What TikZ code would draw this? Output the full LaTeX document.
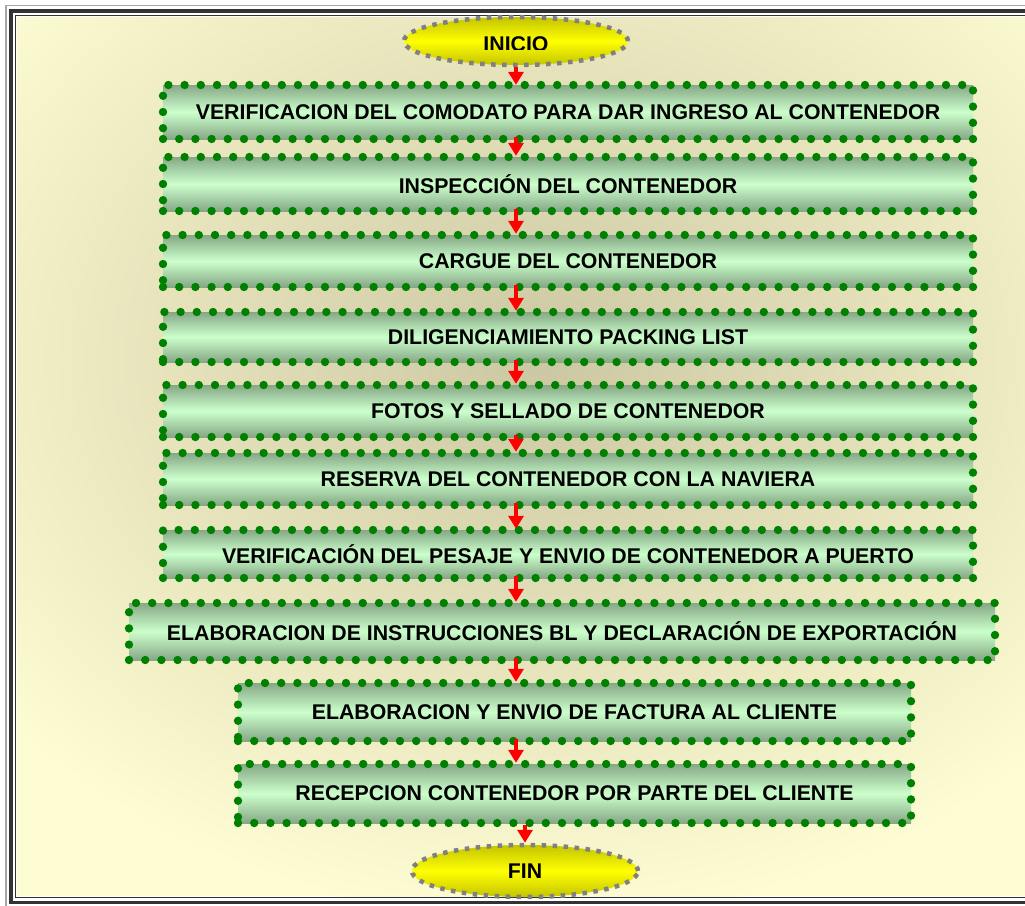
\documentclass[tikz,border=0pt]{standalone}
\usepackage{fontspec}
\setmainfont{Liberation Sans}
\usetikzlibrary{arrows.meta,shapes.geometric,decorations.markings}
\definecolor{bgC}{HTML}{FEFCD2}
\definecolor{shC}{HTML}{CBC7A2}
\definecolor{boxdark}{HTML}{86A886}
\definecolor{boxlight}{HTML}{CCFFCC}
\definecolor{dotgreen}{HTML}{008000}
\definecolor{ydark}{HTML}{C4C400}
\definecolor{ylight}{HTML}{FFFF00}
\definecolor{frameC}{HTML}{333333}
\begin{document}
\begin{tikzpicture}[x=1pt,y=-1pt,
  txt/.style={font=\fontsize{21.3}{24}\selectfont\bfseries, text=black},
  stepbox/.style={rectangle, inner sep=0pt, txt,
    top color=boxdark, bottom color=boxdark, middle color=boxlight,
    postaction={decorate, decoration={markings,
      mark=between positions 0 and 1 step 16.2pt with {\fill[dotgreen] (0,0) circle (4.2pt);}}}},
  term/.style={ellipse, inner sep=0pt, txt,
    top color=ydark, bottom color=ydark, middle color=ylight,
    draw=gray, line width=4.5pt, dash pattern=on 4.5pt off 6.5pt},
  arr/.style={draw=red, line width=3.2pt, -{Triangle[length=13pt,width=15pt]}}]
\useasboundingbox (0,0) rectangle (1025,905);
\fill[white] (0,0) rectangle (1025,905);
% interior background
\begin{scope}
  \clip (17,17) rectangle (1025,896);
  \fill[bgC] (17,17) rectangle (1025,896);
  \shade[inner color=shC, outer color=bgC] (540,360) ellipse (700 and 560);
\end{scope}
% frame
\draw[gray!70, line width=1.5pt] (6,5.5) rectangle (1050,908);
\draw[frameC, line width=3.5pt] (10.8,10.8) rectangle (1045,902.5);
\draw[frameC, line width=1.6pt] (15.6,15.6) rectangle (1040,897.5);

% terminals
\node[term, minimum width=224pt, minimum height=48pt] (inicio) at (516,41) {};
\begin{scope}
  \clip (400,20) rectangle (640,49.5);
  \node[txt] at (516,44) {INICIO};
\end{scope}
\node[term, minimum width=226pt, minimum height=52pt] (fin) at (525,871) {FIN};

% boxes
\node[stepbox, minimum width=810pt, minimum height=54pt] (b1) at (568,112) {VERIFICACION DEL COMODATO PARA DAR INGRESO AL CONTENEDOR};
\node[stepbox, minimum width=810pt, minimum height=54pt] (b2) at (568,184) {INSPECCIÓN DEL CONTENEDOR};
\node[stepbox, minimum width=810pt, minimum height=52pt] (b3) at (568,261) {CARGUE DEL CONTENEDOR};
\node[stepbox, minimum width=810pt, minimum height=50pt] (b4) at (568,337) {DILIGENCIAMIENTO PACKING LIST};
\node[stepbox, minimum width=810pt, minimum height=52pt] (b5) at (568,411) {FOTOS Y SELLADO DE CONTENEDOR};
\node[stepbox, minimum width=810pt, minimum height=52pt] (b6) at (568,479) {RESERVA DEL CONTENEDOR CON LA NAVIERA};
\node[stepbox, minimum width=810pt, minimum height=48pt] (b7) at (568,554) {VERIFICACIÓN DEL PESAJE Y ENVIO DE CONTENEDOR A PUERTO};
\node[stepbox, minimum width=866pt, minimum height=57pt] (b8) at (562,631.5) {ELABORACION DE INSTRUCCIONES BL Y DECLARACIÓN DE EXPORTACIÓN};
\node[stepbox, minimum width=673pt, minimum height=58pt] (b9) at (574.5,712) {ELABORACION Y ENVIO DE FACTURA AL CLIENTE};
\node[stepbox, minimum width=673pt, minimum height=59pt] (b10) at (574.5,793.5) {RECEPCION CONTENEDOR POR PARTE DEL CLIENTE};

% connectors
\draw[arr] (inicio.south) -- (inicio.south |- b1.north);
\foreach \a/\b in {b1/b2,b2/b3,b3/b4,b4/b5,b5/b6,b6/b7,b7/b8,b8/b9,b9/b10}
  \draw[arr] (\a.south -| inicio.south) ++(0,-2) -- ([yshift=1pt]\b.north -| inicio.south);
\draw[arr] ([yshift=-2pt]b10.south -| fin.north) -- (fin.north);
\end{tikzpicture}
\end{document}
